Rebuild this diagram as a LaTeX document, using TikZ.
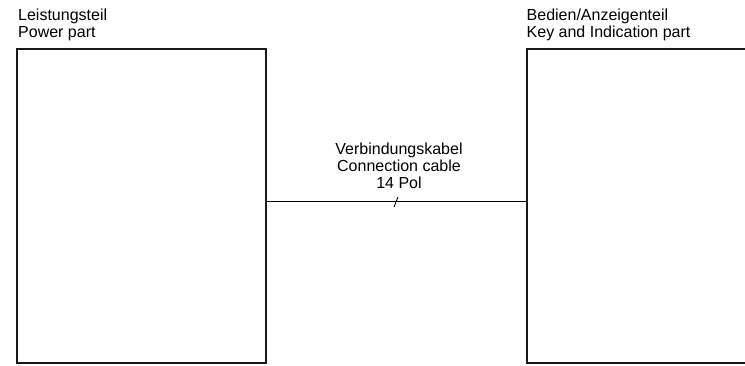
\documentclass[tikz,border=0pt]{standalone}
\usepackage{fontspec}
\setmainfont{Liberation Sans}
\begin{document}
\begin{tikzpicture}[x=1pt,y=-1pt,
  unitbox/.style={draw=black!90,line width=2pt},
  cable/.style={draw=black,line width=0.9pt},
  lbl/.style={inner sep=0pt,font=\fontsize{16}{17}\selectfont}]
\useasboundingbox[fill=white] (0,0) rectangle (745,366);
\path[unitbox] (17,49) rectangle (266,363);
\path[unitbox] (527,49) rectangle (760,363);
\coordinate (pl) at (266,201.5);
\coordinate (pr) at (527,201.5);
\path[cable] (pl) -- (pr);
\coordinate (t1) at (394,207);
\coordinate (t2) at (398,197);
\path[cable] (t1) -- (t2);
\node[lbl,anchor=base west] (l1) at (18,20.7) {Leistungsteil};
\node[lbl,anchor=base west] (l2) at (18,37.7) {Power part};
\node[lbl,anchor=base west] (r1) at (526.5,20.7) {Bedien/Anzeigenteil};
\node[lbl,anchor=base west] (r2) at (526.5,37.7) {Key and Indication part};
\node[lbl,anchor=base] (c1) at (399,155) {Verbindungskabel};
\node[lbl,anchor=base] (c2) at (399,172) {Connection cable};
\node[lbl,anchor=base] (c3) at (399,189) {14 Pol};
\end{tikzpicture}
\end{document}
